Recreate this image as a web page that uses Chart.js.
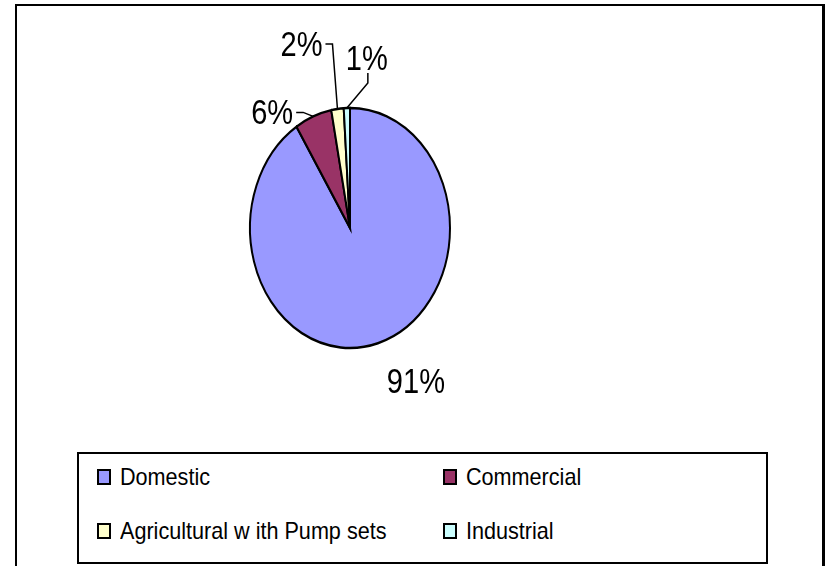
<!DOCTYPE html>
<html>
<head>
<meta charset="utf-8">
<script src="https://cdn.jsdelivr.net/npm/chart.js@4"></script>
<style>
  html, body { margin: 0; padding: 0; background: #fff; }
  body { width: 828px; height: 566px; position: relative; overflow: hidden; font-family: "Liberation Sans", Arial, sans-serif; }
  #frame { position: absolute; left: 15px; top: 4px; width: 810px; height: 620px; box-sizing: border-box; border: 2px solid #000; border-right-width: 3px; }
  #pie { position: absolute; left: 0; top: 0; }
  #legend { position: absolute; left: 77px; top: 452px; width: 691px; height: 112px; box-sizing: border-box; border: 2px solid #000; background: #fff; }
  .item { position: absolute; height: 24px; display: flex; align-items: center; white-space: nowrap; }
  .swatch { width: 14px; height: 16px; box-sizing: border-box; border: 2px solid #000; margin-right: 9px; flex: none; }
  .item span { font-size: 24px; color: #000; display: inline-block; transform: scaleX(0.9); transform-origin: left center; }
</style>
</head>
<body>
<div id="frame"></div>
<canvas id="pie" width="828" height="566"></canvas>
<div id="legend"></div>
<script>
// ============================================
// Consumer category share (pie)
// ============================================

const categories = ['Domestic', 'Commercial', 'Agricultural w ith Pump sets', 'Industrial'];
const shares = [91, 6, 2, 1];
const colors = ['#9999FF', '#993366', '#FFFFCC', '#CCFFFF'];

// label placement, relative to the slice's outer edge point
const labelOffsets = [[38, 38], [-41, -4], [-36, -65], [20, -50]];
const leaderTypes = [null, 'right', 'right', 'below'];

const Y_STRETCH = 1.2;   // the original pie is an upright ellipse
const LABEL_FONT = '35px "Liberation Sans", Arial, sans-serif';
const LABEL_SQUEEZE = 0.83;

(function() {
  'use strict';

  const total = shares.reduce((a, b) => a + b, 0);

  // squash the round pie into an ellipse around its centre
  const ellipsePlugin = {
    id: 'ellipse',
    beforeDatasetsDraw(chart) {
      const arc = chart.getDatasetMeta(0).data[0];
      const ctx = chart.ctx;
      ctx.save();
      ctx.translate(arc.x, arc.y);
      ctx.scale(1, Y_STRETCH);
      ctx.translate(-arc.x, -arc.y);
    },
    afterDatasetsDraw(chart) {
      chart.ctx.restore();
    }
  };

  // percentage labels + leader lines
  const labelPlugin = {
    id: 'pctLabels',
    afterDraw(chart) {
      const ctx = chart.ctx;
      const arcs = chart.getDatasetMeta(0).data;
      ctx.save();
      ctx.font = LABEL_FONT;
      ctx.fillStyle = '#000';
      ctx.strokeStyle = '#000';
      ctx.lineWidth = 1.5;
      arcs.forEach((arc, i) => {
        const mid = (arc.startAngle + arc.endAngle) / 2;
        const ex = arc.x + arc.outerRadius * Math.cos(mid);
        const ey = arc.y + arc.outerRadius * Y_STRETCH * Math.sin(mid);
        const lx = ex + labelOffsets[i][0];
        const ly = ey + labelOffsets[i][1];
        const text = Math.round(shares[i] / total * 100) + '%';
        const w = ctx.measureText(text).width * LABEL_SQUEEZE;

        ctx.save();
        ctx.translate(lx, ly);
        ctx.scale(LABEL_SQUEEZE, 1);
        ctx.textAlign = 'center';
        ctx.textBaseline = 'middle';
        ctx.fillText(text, 0, 2);
        ctx.restore();

        const type = leaderTypes[i];
        if (!type) return;
        let ax, ay, bx, by;
        if (type === 'right') {
          ax = lx + w / 2 + 3; ay = ly;
          bx = ax + 7; by = ay;
        } else {
          ax = lx + 1; ay = ly + 15;
          bx = ax; by = ay + 10;
        }
        ctx.beginPath();
        ctx.moveTo(ax, ay);
        ctx.lineTo(bx, by);
        ctx.lineTo(ex, ey);
        ctx.stroke();
      });
      ctx.restore();
    }
  };

  const ctx = document.getElementById('pie').getContext('2d');
  new Chart(ctx, {
    type: 'pie',
    data: {
      labels: categories,
      datasets: [{
        data: shares,
        backgroundColor: colors,
        borderColor: '#000',
        borderWidth: 2,
        borderJoinStyle: 'miter'
      }]
    },
    options: {
      responsive: false,
      animation: false,
      events: [],
      layout: { padding: { left: 249, right: 377, top: 127, bottom: 237 } },
      plugins: {
        legend: { display: false },
        tooltip: { enabled: false }
      }
    },
    plugins: [ellipsePlugin, labelPlugin]
  });

  // legend: two columns, two rows
  const legend = document.getElementById('legend');
  const colX = [18, 364];
  const rowY = [11, 65];
  categories.forEach((name, i) => {
    const item = document.createElement('div');
    item.className = 'item';
    item.style.left = colX[i % 2] + 'px';
    item.style.top = rowY[Math.floor(i / 2)] + 'px';
    item.innerHTML = `<div class="swatch" style="background:${colors[i]}"></div><span>${name}</span>`;
    legend.appendChild(item);
  });

})();
</script>
</body>
</html>
